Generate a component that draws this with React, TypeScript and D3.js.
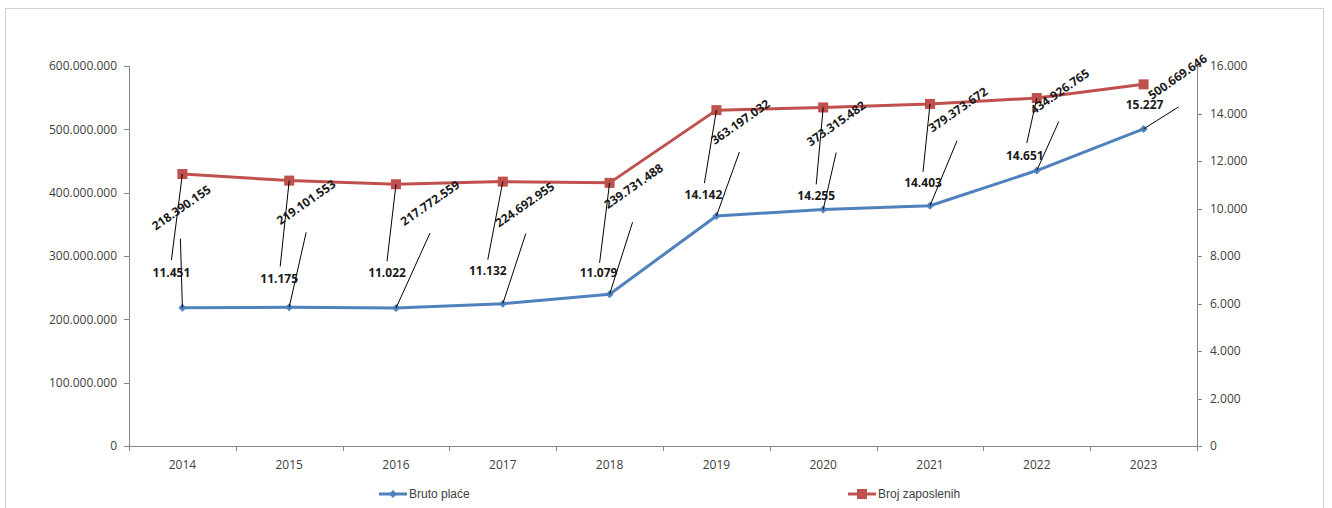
import React from "react";
import * as d3 from "d3";

const years = ["2014", "2015", "2016", "2017", "2018", "2019", "2020", "2021", "2022", "2023"];
const brutoPlace = [218390155, 219101553, 217772559, 224692955, 239731488, 363197032, 373315482, 379373672, 434926765, 500669646];
const brojZaposlenih = [11451, 11175, 11022, 11132, 11079, 14142, 14255, 14403, 14651, 15227];
const leftTicks = [0, 100000000, 200000000, 300000000, 400000000, 500000000, 600000000];
const rightTicks = [0, 2000, 4000, 6000, 8000, 10000, 12000, 14000, 16000];

// label layout (pixel offsets from each marker, as placed manually in the original)
const blueLabelOff: [number, number][] = [[-1, -100], [17, -105], [34, -105], [22, -99], [24, -108], [24, -94], [13, -86], [28, -96], [23, -79], [34, -52]];
const blueLeaderOff: ([number, number] | null)[] = [[-2, -69], [17, -75], [34, -75], [23, -70], [23, -72], [23, -64], [13, -57], [27, -65], [22, -49], [35, -22]];
const redLabelOff: [number, number][] = [[-11, 99], [-10, 98], [-9, 89], [-15, 89], [-11, 90], [-13, 85], [-7, 88], [-7, 79], [-12, 58], [1, 20]];
const redLeaderOff: ([number, number] | null)[] = [[-11, 86], [-9, 86], [-9, 77], [-15, 78], [-10, 80], [-12, 73], [-7, 77], [-7, 68], [-10, 45], null];

const W = 1332;
const H = 508;
const plot = { left: 129, right: 1197, top: 66, bottom: 446 };
const BLUE = "#4F81BD";
const RED = "#C0504D";
const AXIS = "#868686";
const TXT = "#404040";
const FONT = "'Open Sans', 'DejaVu Sans', sans-serif";

const fmt = (v: number) => {
  const s = Math.round(v).toString();
  return s.replace(/\B(?=(\d{3})+(?!\d))/g, ".");
};

export default function App() {
  const x = d3.scaleBand<string>().domain(years).range([plot.left, plot.right]).paddingInner(0).paddingOuter(0);
  const yL = d3.scaleLinear().domain([0, 600000000]).range([plot.bottom, plot.top]);
  const yR = d3.scaleLinear().domain([0, 16000]).range([plot.bottom, plot.top]);
  const cx = (i: number) => (x(years[i]) as number) + x.bandwidth() / 2;

  const blueLine = d3.line<number>().x((_, i) => cx(i)).y((d) => yL(d))(brutoPlace) as string;
  const redLine = d3.line<number>().x((_, i) => cx(i)).y((d) => yR(d))(brojZaposlenih) as string;

  const bandEdges = years.map((y) => x(y) as number).concat([plot.right]);

  return (
    <div style={{ position: "absolute", left: 0, top: 0 }}>
      <svg width={W} height={H} style={{ display: "block" }}>
        <rect x={0} y={0} width={W} height={H} fill="#fff" />
        <rect x={5.5} y={8.5} width={1318} height={520} fill="#fff" stroke="#d0d0d0" strokeWidth={1} />

        {/* left axis */}
        <line x1={plot.left + 0.5} x2={plot.left + 0.5} y1={plot.top} y2={plot.bottom} stroke={AXIS} strokeWidth={1} />
        {leftTicks.map((t) => (
          <g key={"l" + t}>
            <line x1={plot.left - 5} x2={plot.left} y1={Math.round(yL(t)) + 0.5} y2={Math.round(yL(t)) + 0.5} stroke={AXIS} />
            <text x={plot.left - 12} y={yL(t)} dy="0.35em" textAnchor="end" fontFamily={FONT} fontSize={12} fill={TXT}>
              {fmt(t)}
            </text>
          </g>
        ))}

        {/* right axis */}
        <line x1={plot.right + 0.5} x2={plot.right + 0.5} y1={plot.top} y2={plot.bottom} stroke={AXIS} strokeWidth={1} />
        {rightTicks.map((t) => (
          <g key={"r" + t}>
            <line x1={plot.right} x2={plot.right + 5} y1={Math.round(yR(t)) + 0.5} y2={Math.round(yR(t)) + 0.5} stroke={AXIS} />
            <text x={plot.right + 13} y={yR(t)} dy="0.35em" textAnchor="start" fontFamily={FONT} fontSize={12} fill={TXT}>
              {fmt(t)}
            </text>
          </g>
        ))}

        {/* x axis */}
        <line x1={plot.left} x2={plot.right} y1={plot.bottom + 0.5} y2={plot.bottom + 0.5} stroke={AXIS} strokeWidth={1} />
        {bandEdges.map((e, i) => (
          <line key={"xt" + i} x1={Math.round(e) + 0.5} x2={Math.round(e) + 0.5} y1={plot.bottom} y2={plot.bottom + 5} stroke={AXIS} />
        ))}
        {years.map((y, i) => (
          <text key={"xl" + y} x={cx(i)} y={plot.bottom + 19} dy="0.35em" textAnchor="middle" fontFamily={FONT} fontSize={12} fill={TXT}>
            {y}
          </text>
        ))}

        {/* series */}
        <path d={redLine} fill="none" stroke={RED} strokeWidth={3} strokeLinejoin="round" />
        {brojZaposlenih.map((v, i) => (
          <rect key={"rm" + i} x={cx(i) - 5} y={yR(v) - 5} width={10} height={10} fill={RED} />
        ))}
        <path d={blueLine} fill="none" stroke={BLUE} strokeWidth={3} strokeLinejoin="round" />
        {brutoPlace.map((v, i) => {
          const px = cx(i);
          const py = yL(v);
          const r = 4;
          return <path key={"bm" + i} d={`M${px},${py - r}L${px + r},${py}L${px},${py + r}L${px - r},${py}Z`} fill={BLUE} />;
        })}

        {/* leader lines */}
        {brutoPlace.map((v, i) => {
          const o = blueLeaderOff[i];
          if (!o) return null;
          const px = cx(i);
          const py = yL(v);
          return <line key={"bl" + i} x1={px} y1={py} x2={px + o[0]} y2={py + o[1]} stroke="#000" strokeWidth={1} />;
        })}
        {brojZaposlenih.map((v, i) => {
          const o = redLeaderOff[i];
          if (!o) return null;
          const px = cx(i);
          const py = yR(v);
          return <line key={"rl" + i} x1={px} y1={py} x2={px + o[0]} y2={py + o[1]} stroke="#000" strokeWidth={1} />;
        })}

        {/* data labels */}
        {brutoPlace.map((v, i) => {
          const px = cx(i) + blueLabelOff[i][0];
          const py = yL(v) + blueLabelOff[i][1];
          return (
            <text key={"blb" + i} transform={`translate(${px},${py}) rotate(-35)`} textAnchor="middle" dy="0.35em" fontFamily={FONT} fontWeight="bold" fontSize={12} fill="#1a1a1a">
              {fmt(v)}
            </text>
          );
        })}
        {brojZaposlenih.map((v, i) => {
          const px = cx(i) + redLabelOff[i][0];
          const py = yR(v) + redLabelOff[i][1];
          return (
            <text key={"rlb" + i} x={px} y={py} textAnchor="middle" dy="0.35em" fontFamily={FONT} fontWeight="bold" fontSize={12} fill="#1a1a1a">
              {fmt(v)}
            </text>
          );
        })}

        {/* legend */}
        <g transform="translate(379,494)">
          <line x1={0} x2={28} y1={0} y2={0} stroke={BLUE} strokeWidth={3} />
          <path d="M14,-4L18,0L14,4L10,0Z" fill={BLUE} />
          <text x={30} y={0} dy="0.35em" fontFamily="'Liberation Sans Narrow', 'Liberation Sans', sans-serif" fontSize={12} fill={TXT}>
            Bruto plaće
          </text>
        </g>
        <g transform="translate(848,494)">
          <line x1={0} x2={28} y1={0} y2={0} stroke={RED} strokeWidth={3} />
          <rect x={9} y={-5} width={10} height={10} fill={RED} />
          <text x={30} y={0} dy="0.35em" fontFamily="'Liberation Sans Narrow', 'Liberation Sans', sans-serif" fontSize={12} fill={TXT}>
            Broj zaposlenih
          </text>
        </g>
      </svg>
    </div>
  );
}
